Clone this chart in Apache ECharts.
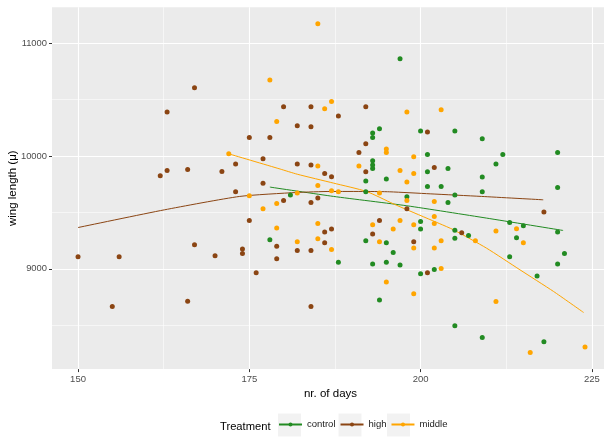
<!DOCTYPE html>
<html>
<head>
<meta charset="utf-8">
<script src="https://cdn.jsdelivr.net/npm/echarts@6/dist/echarts.min.js"></script>
<style>
html,body{margin:0;padding:0;background:#fff;}
#chart{width:604px;height:437px;}
</style>
</head>
<body>
<div id="chart"></div>
<script>
// ---- data ----
const treatments = ['control', 'high', 'middle'];
const colors = ['#228B22', '#8B4513', '#FFA500'];

const controlDays = [197,194,193,193,200,201,193,193,193,201,192,195,201,205,209,212,220,204,211,209,203,220,181,192,198,178,188,200,200,192,195,196,193,195,197,200,194,209,204,205,205,205,207,213,215,214,220,221,213,220,217,202,205,209,218];
const controlWing = [10863,10242,10204,10165,10222,10014,9958,9920,9890,9861,9778,9796,9730,10222,10154,10014,10032,9890,9929,9814,9730,9721,9654,9683,9639,9257,9059,9420,9352,9249,9231,9145,9042,9059,9033,8956,8722,9683,9588,9654,9343,9272,9296,9411,9382,9275,9326,9136,9106,9042,8935,8994,8494,8391,8352];

const highDays = [167,163,173,162,163,166,171,173,150,156,167,170,155,166,180,184,192,188,182,184,201,175,178,192,191,177,182,184,192,186,187,177,198,180,184,185,175,186,187,186,174,174,179,182,184,179,176,184,194,193,199,201,202,218,206];
const highWing = [10606,10390,9929,9825,9872,9881,9863,9683,9106,9106,9213,9115,8666,8713,10437,10437,10437,10355,10269,10260,10213,10165,10165,10109,10032,9976,9929,9920,9861,9846,9816,9760,9532,9606,9588,9627,9429,9326,9352,9231,9175,9136,9201,9162,9162,9089,8964,8666,9429,9308,9240,8964,9899,9503,9319];

const middleDays = [185,178,187,186,198,179,195,195,199,185,191,197,199,185,198,203,172,175,182,187,188,194,198,177,179,179,185,182,185,187,193,197,199,196,194,199,195,199,202,202,202,208,203,202,211,214,215,203,211,216,224];
const middleWing = [11174,10674,10484,10420,10390,10307,10062,10032,9994,9911,9911,9872,9846,9739,9769,10411,10020,9648,9672,9692,9683,9672,9606,9532,9579,9361,9402,9240,9266,9171,9390,9429,9390,9352,9240,9184,8882,8778,9597,9464,9402,9249,9249,9184,9335,9355,9231,9003,8710,8257,8305];

// fitted (smoothed) curves
const controlFitDays = [178, 187.3, 198, 209.6, 220.8];
const controlFitWing = [9725, 9642, 9559, 9450, 9340];
const highFitDays = [150, 162.6, 173.6, 181.9, 186.8, 192, 195.5, 201.4, 208.9, 217.9];
const highFitWing = [9366, 9523, 9642, 9677, 9686, 9686, 9683, 9665, 9642, 9612];
const middleFitDays = [172, 179.5, 182, 187.3, 192.1, 196, 198, 202.8, 204.8, 209.6, 214.5, 219.4, 223.8];
const middleFitWing = [10020, 9885, 9839, 9760, 9686, 9577, 9524, 9400, 9346, 9184, 8991, 8799, 8612];

// axes
const xTicks = [150, 175, 200, 225];
const xMinor = [162.5, 187.5, 212.5];
const yTicks = [9000, 10000, 11000];
const yMinor = [8500, 9500, 10500];

// ---- chart ----
const FONT = '"Liberation Sans", Arial, sans-serif';
const zip = (a, b) => a.map((v, i) => [v, b[i]]);
const points = [zip(controlDays, controlWing), zip(highDays, highWing), zip(middleDays, middleWing)];
const fits = [zip(controlFitDays, controlFitWing), zip(highFitDays, highFitWing), zip(middleFitDays, middleFitWing)];

const gridLines = [];
xTicks.forEach(v => gridLines.push({xAxis: v, lineStyle: {width: 1.1}}));
xMinor.forEach(v => gridLines.push({xAxis: v, lineStyle: {width: 0.55}}));
yTicks.forEach(v => gridLines.push({yAxis: v, lineStyle: {width: 1.1}}));
yMinor.forEach(v => gridLines.push({yAxis: v, lineStyle: {width: 0.55}}));

const series = [];
treatments.forEach((t, i) => {
  series.push({
    name: t, type: 'line', data: fits[i], symbol: 'circle', showSymbol: false,
    smooth: 0.2, lineStyle: {color: colors[i], width: 1}, itemStyle: {color: colors[i]},
    z: 9, silent: true
  });
});
treatments.forEach((t, i) => {
  series.push({
    name: t, type: 'scatter', data: points[i], symbol: 'circle', symbolSize: 5,
    itemStyle: {color: colors[i], opacity: 1}, z: 10
  });
});
series.push({
  name: '_grid', type: 'line', data: [], silent: true, z: 2,
  markLine: {
    silent: true, symbol: ['none', 'none'], label: {show: false},
    lineStyle: {color: '#FFFFFF', type: 'solid'},
    emphasis: {disabled: true},
    animation: false,
    data: gridLines
  }
});

const chart = echarts.init(document.getElementById('chart'), null, {renderer: 'canvas'});
chart.setOption({
  animation: false,
  backgroundColor: '#FFFFFF',
  textStyle: {fontFamily: FONT},
  grid: {left: 52, right: -5, top: 7.3, bottom: 67.9, show: true, backgroundColor: '#EBEBEB', borderWidth: 0, containLabel: false, outerBoundsMode: 'none'},
  xAxis: {
    type: 'value', min: 146.2, max: 227.5,
    name: 'nr. of days', nameLocation: 'middle', nameGap: 19, nameMoveOverlap: false,
    nameTextStyle: {fontSize: 11.5, color: '#000', fontFamily: FONT},
    axisLine: {show: false},
    axisTick: {show: true, length: 3, lineStyle: {color: '#333333', width: 1}, customValues: xTicks},
    axisLabel: {fontSize: 9.5, color: '#4D4D4D', margin: 5, customValues: xTicks, fontFamily: FONT, formatter: v => String(v)},
    splitLine: {show: false}
  },
  yAxis: {
    type: 'value', min: 8110, max: 11320,
    name: 'wing length (\u03bc)', nameLocation: 'middle', nameGap: 33, nameRotate: 90, nameMoveOverlap: false,
    nameTextStyle: {fontSize: 11.5, color: '#000', fontFamily: FONT},
    axisLine: {show: false},
    axisTick: {show: true, length: 3, lineStyle: {color: '#333333', width: 1}, customValues: yTicks},
    axisLabel: {fontSize: 9.4, color: '#4D4D4D', margin: 5, customValues: yTicks, fontFamily: FONT, formatter: v => String(v)},
    splitLine: {show: false}
  },
  legend: {
    data: treatments, orient: 'horizontal', left: 278, top: 419.5,
    itemWidth: 23, itemHeight: 5, itemGap: 4, padding: 0,
    selectedMode: false,
    textStyle: {fontSize: 9.5, color: '#1A1A1A', fontFamily: FONT}
  },
  graphic: [
    {type: 'text', left: 220, top: 421, style: {text: 'Treatment', fontSize: 11.2, fill: '#000', fontFamily: FONT}},
    {type: 'rect', shape: {x: 278, y: 413.5, width: 23, height: 23}, style: {fill: '#F2F2F2'}, z: -1},
    {type: 'rect', shape: {x: 338.5, y: 413.5, width: 23, height: 23}, style: {fill: '#F2F2F2'}, z: -1},
    {type: 'rect', shape: {x: 387, y: 413.5, width: 23, height: 23}, style: {fill: '#F2F2F2'}, z: -1}
  ],
  series: series
});
</script>
</body>
</html>
